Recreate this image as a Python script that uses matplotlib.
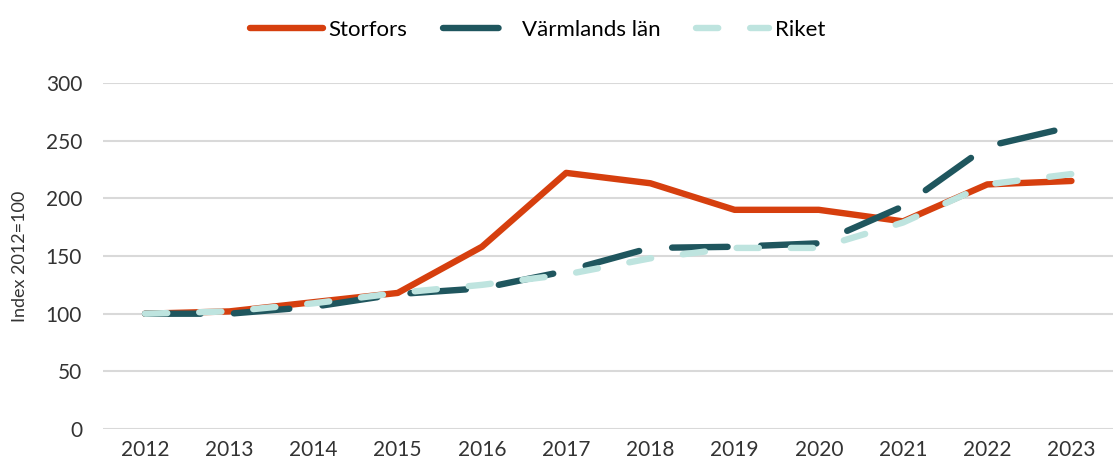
import matplotlib.pyplot as plt

years = ['2012', '2013', '2014', '2015', '2016', '2017', '2018', '2019', '2020', '2021', '2022', '2023']
storfors = [100, 102, 110, 118, 158, 222, 213, 190, 190, 180, 212, 215]
varmland = [100, 100, 106, 117, 122, 137, 157, 158, 161, 193, 245, 262]
riket = [100, 102, 109, 118, 125, 134, 148, 157, 157, 179, 212, 221]

plt.rcParams['font.family'] = ['Lato', 'DejaVu Sans']
plt.rcParams['lines.scale_dashes'] = False

fig = plt.figure(figsize=(11.13, 4.68), dpi=100)
ax = fig.add_axes([0.0925, 0.083, 0.908, 0.74])

x = range(len(years))
ax.plot(x, storfors, color='#D63F0E', lw=4.6, solid_capstyle='round', solid_joinstyle='round',
        label='Storfors', zorder=3)
ax.plot(x, varmland, color='#1F565E', lw=4.6, dashes=(40, 24), dash_capstyle='round',
        label='Värmlands län', zorder=4)
ax.plot(x, riket, color='#BEE4DF', lw=4.6, dashes=(16, 23), dash_capstyle='round',
        label='Riket', zorder=5)

ax.set_xlim(-0.5, len(years) - 0.5)
ax.set_ylim(0, 300)
ax.set_yticks(range(0, 301, 50))
ax.set_xticks(list(x))
ax.set_xticklabels(years)
ax.grid(axis='y', color='#D9D9D9', lw=1.5)
ax.set_axisbelow(True)
for s in ['top', 'right', 'left', 'bottom']:
    ax.spines[s].set_visible(False)
ax.tick_params(length=0, labelsize=15, colors='#333333', pad=8)
ax.tick_params(axis='y', pad=15)
ax.set_ylabel('Index 2012=100', fontsize=13, color='#333333')
ax.yaxis.set_label_coords(-0.074, 0.5)

fig.legend(loc='upper center', bbox_to_anchor=(0.483, 1.0), ncol=3, frameon=False,
           fontsize=16, handlelength=3.3, columnspacing=1.6, handletextpad=0.25)

fig.savefig('out.png', dpi=100)
